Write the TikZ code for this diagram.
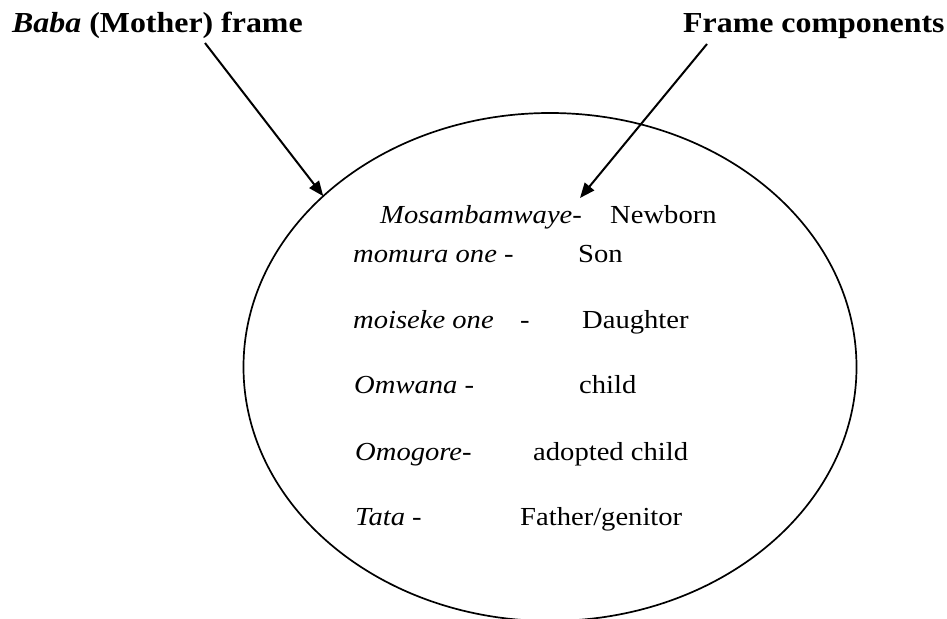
\documentclass[tikz,border=0pt]{standalone}
\usepackage{fontspec}
\setmainfont{Liberation Serif}[FakeStretch=1.1]
\usetikzlibrary{shapes.geometric,arrows.meta}
\begin{document}
\begin{tikzpicture}[x=1pt,y=-1pt,
  term/.style={anchor=base west,inner sep=0pt,font=\fontsize{26}{30}\selectfont},
  heading/.style={anchor=base west,inner sep=0pt,font=\fontsize{29}{34}\selectfont\bfseries},
  pointer/.style={line width=2pt,-{Triangle[length=15pt,width=12pt]}},
  frameshape/.style={ellipse,draw,line width=1.7pt,minimum width=613pt,minimum height=508pt,inner sep=0pt,outer sep=0pt}]
\useasboundingbox (0,0) rectangle (947,618);

% the frame itself, running off the lower edge
\begin{scope}
  \clip (0,0) rectangle (947,618);
  \node[frameshape] (frame) at (550,367) {};
\end{scope}

% headings
\node[heading] (mother) at (12,33) {\textit{Baba} (Mother) frame};
\node[heading] (comp) at (683,33) {Frame components};

% frame components
\node[term] (t1) at (380,223) {\textit{Mosambamwaye}-};
\node[term] (g1) at (610,223) {Newborn};
\node[term] (t2) at (353,262) {\textit{momura one} -};
\node[term] (g2) at (578,262) {Son};
\node[term] (t3) at (353,328) {\textit{moiseke one}};
\node[term] (d3) at (520,328) {-};
\node[term] (g3) at (582,328) {Daughter};
\node[term] (t4) at (354,393) {\textit{Omwana} -};
\node[term] (g4) at (579,393) {child};
\node[term] (t5) at (355,460) {\textit{Omogore}-};
\node[term] (g5) at (533,460) {adopted child};
\node[term] (t6) at (355,525) {\textit{Tata} -};
\node[term] (g6) at (520,525) {Father/genitor};

% pointers from the headings
\coordinate (m0) at (205,43);
\coordinate (c0) at (707,44);
\coordinate (c1) at (580,198);
\draw[pointer] (m0) -- (frame.143.2);
\draw[pointer] (c0) -- (c1);
\end{tikzpicture}
\end{document}
